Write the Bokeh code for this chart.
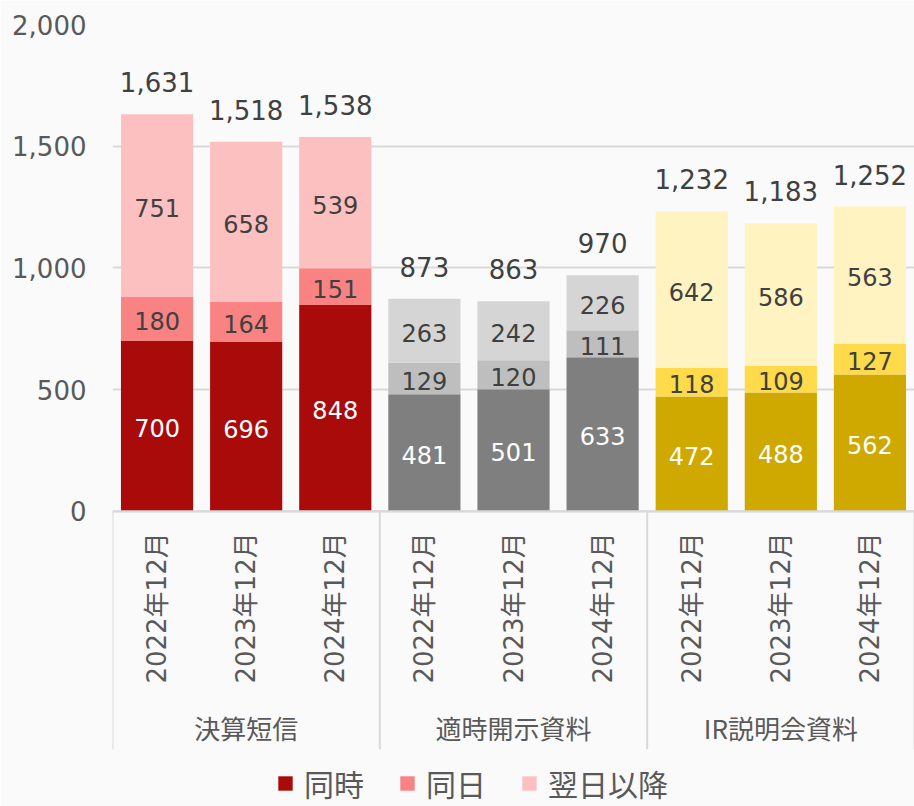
import math
from bokeh.plotting import figure
from bokeh.models import (ColumnDataSource, FixedTicker, NumeralTickFormatter,
                          Legend, LegendItem, Range1d)
from bokeh.core.properties import value
from bokeh.embed import file_html
from bokeh.resources import INLINE

# ---------------- data ----------------
groups = ["決算短信", "適時開示資料", "IR説明会資料"]
years = ["2022年12月", "2023年12月", "2024年12月"]
series = ["同時", "同日", "翌日以降"]
doji = [700, 696, 848, 481, 501, 633, 472, 488, 562]        # 同時
dojitsu = [180, 164, 151, 129, 120, 111, 118, 109, 127]     # 同日
yokujitsu = [751, 658, 539, 263, 242, 226, 642, 586, 563]   # 翌日以降
y_ticks = [0, 500, 1000, 1500, 2000]

palette = {
    "決算短信": ["#A90B0B", "#F98282", "#FCC0C0"],
    "適時開示資料": ["#7F7F7F", "#BEBEBE", "#D5D5D5"],
    "IR説明会資料": ["#CFA800", "#FFDA4A", "#FFF3C2"],
}
inner_text_colors = ["#FFFFFF", "#404040", "#404040"]

# ---------------- layout ----------------
W, H = 914, 806
LEFT, TOP = 112, 24
frame_w = W - LEFT
frame_h = H - TOP
px_per_unit = (510.8 - 24.0) / 2000.0
y_end = 2000.0
y_start = y_end - frame_h / px_per_unit
slot_px = 802.0 / 9.0
x_end = frame_w / slot_px

def px(v):
    return v / px_per_unit

BG = "#FAFAFA"
LATIN = "DejaVu Sans"
CJK = "Noto Sans CJK JP"
MIXED = "DejaVu Sans, Noto Sans CJK JP"

p = figure(width=W, height=H, output_backend="svg", toolbar_location=None,
           x_range=Range1d(0, x_end), y_range=Range1d(y_start, y_end),
           x_axis_location=None,
           min_border_left=LEFT, min_border_top=TOP, min_border_right=0,
           min_border_bottom=0, background_fill_color=BG, border_fill_color=BG,
           outline_line_color=None)

# y axis
yax = p.yaxis[0]
yax.ticker = FixedTicker(ticks=y_ticks)
yax.formatter = NumeralTickFormatter(format="0,0")
yax.axis_line_color = None
yax.major_tick_line_color = None
yax.minor_tick_line_color = None
yax.major_tick_out = 0
yax.major_label_standoff = 26
yax.major_label_text_font = LATIN
yax.major_label_text_font_size = "26px"
yax.major_label_text_color = "#595959"

p.xgrid.visible = False
p.ygrid.ticker = FixedTicker(ticks=y_ticks)
p.ygrid.grid_line_color = "#D9D9D9"
p.ygrid.grid_line_width = 2

# ---------------- bars ----------------
n = len(doji)
xs = [i + 0.5 for i in range(n)]
grp_of = [groups[i // 3] for i in range(n)]
levels = [doji, dojitsu, yokujitsu]

renderers = []
bottoms = [0] * n
for li, vals in enumerate(levels):
    tops = [b + v for b, v in zip(bottoms, vals)]
    src = ColumnDataSource(dict(
        x=xs, bottom=bottoms, top=tops,
        color=[palette[g][li] for g in grp_of],
        mid=[(b + t) / 2 for b, t in zip(bottoms, tops)],
        label=[f"{v:,}" for v in vals],
    ))
    r = p.vbar(x="x", bottom="bottom", top="top", width=0.81, source=src,
               fill_color="color", line_color=None)
    renderers.append(r)
    p.text(x="x", y="mid", text="label", source=src,
           text_font=value(LATIN), text_font_size="24px",
           text_color=inner_text_colors[li], text_align="center",
           text_baseline="middle", y_offset=2)
    bottoms = tops

totals = bottoms
tsrc = ColumnDataSource(dict(x=xs, y=[t + px(32) for t in totals],
                             label=[f"{t:,}" for t in totals]))
p.text(x="x", y="y", text="label", source=tsrc, text_font=value(LATIN),
       text_font_size="26px", text_color="#404040", text_align="center",
       text_baseline="middle")

# ---------------- category axis (drawn) ----------------
ysrc = ColumnDataSource(dict(x=xs, y=[-px(21)] * n,
                             label=[years[i % 3] for i in range(n)]))
p.text(x="x", y="y", text="label", source=ysrc, angle=math.pi / 2,
       text_font=value(MIXED), text_font_size="26px", text_color="#595959",
       text_align="right", text_baseline="middle")

gsrc = ColumnDataSource(dict(x=[1.5 + 3 * g for g in range(len(groups))],
                             y=[-px(216)] * len(groups), label=groups))
p.text(x="x", y="y", text="label", source=gsrc, text_font=value(CJK),
       text_font_size="26px", text_color="#595959", text_align="center",
       text_baseline="middle")

sep_x = [3 * g for g in range(len(groups) + 1)]
p.segment(x0=sep_x, x1=sep_x, y0=[0] * len(sep_x), y1=[-px(238)] * len(sep_x),
          line_color="#D9D9D9", line_width=2)
p.segment(x0=[0], x1=[x_end], y0=[0], y1=[0], line_color="#D9D9D9", line_width=2)

# ---------------- legend ----------------
legend = Legend(items=[LegendItem(label=s, renderers=[r], index=0)
                       for s, r in zip(series, renderers)],
                orientation="horizontal", location=(164, 1),
                glyph_width=18, glyph_height=18, label_standoff=10, spacing=34,
                label_text_font=CJK, label_text_font_size="30px",
                label_text_color="#595959", padding=0, margin=0,
                border_line_color=None, background_fill_alpha=0)
p.add_layout(legend, "center")

html = file_html(p, INLINE)
html = html.replace("<body>", '<body style="background:#FAFAFA">', 1)
open("out.html", "w").write(html)
